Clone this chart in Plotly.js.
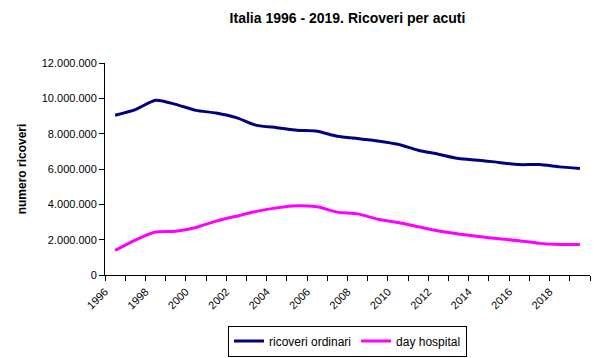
<!DOCTYPE html>
<html>
<head>
<meta charset="utf-8">
<script src="https://cdn.plot.ly/plotly-3.0.1.min.js"></script>
<style>html,body{margin:0;padding:0;background:#fff;}#chart{width:599px;height:358px;}</style>
</head>
<body>
<div id="chart"></div>
<script>
const years = [1996,1997,1998,1999,2000,2001,2002,2003,2004,2005,2006,2007,2008,2009,2010,2011,2012,2013,2014,2015,2016,2017,2018,2019];
const ricoveriOrdinari = [9040000,9360000,9890000,9660000,9320000,9170000,8910000,8470000,8340000,8190000,8140000,7850000,7720000,7590000,7400000,7060000,6840000,6590000,6500000,6370000,6250000,6250000,6120000,6030000];
const dayHospital = [1390000,1980000,2430000,2470000,2690000,3050000,3330000,3600000,3800000,3920000,3860000,3560000,3460000,3160000,2970000,2730000,2490000,2320000,2180000,2050000,1940000,1790000,1730000,1730000];
const tickLabels = ['1996','1998','2000','2002','2004','2006','2008','2010','2012','2014','2016','2018'];
const tickPos = tickLabels.map(t => Number(t) - 0.5);

const FONT = 'Liberation Sans, Arial, sans-serif';
const data = [
  {x: years, y: ricoveriOrdinari, name: 'ricoveri ordinari', mode: 'lines', type: 'scatter',
   line: {color: '#000080', width: 3, shape: 'spline', smoothing: 0.6}},
  {x: years, y: dayHospital, name: 'day hospital', mode: 'lines', type: 'scatter',
   line: {color: '#FF00FF', width: 3, shape: 'spline', smoothing: 0.6}}
];
const layout = {
  width: 599, height: 358,
  margin: {l: 105, r: 9, t: 63, b: 83},
  paper_bgcolor: '#fff', plot_bgcolor: '#fff',
  separators: ',.',
  font: {family: FONT, size: 11, color: '#000'},
  title: {text: '<b>Italia 1996 - 2019. Ricoveri per acuti</b>', font: {family: FONT, size: 14, color: '#000'},
          x: 0.5, xanchor: 'center', y: 0.95, yanchor: 'middle', xref: 'paper'},
  xaxis: {range: [1995.5, 2019.5], tickmode: 'array', tickvals: tickPos, ticktext: tickLabels,
          tickangle: -45, ticks: 'outside', ticklen: 5, tickcolor: '#000', tickwidth: 1, automargin: false,
          showline: true, linecolor: '#000', linewidth: 1, showgrid: false, zeroline: false,
          minor: {tickmode: 'linear', tick0: 1995.5, dtick: 1, ticks: 'outside', ticklen: 5, tickcolor: '#000', showgrid: false},
          tickfont: {family: FONT, size: 11, color: '#000'}, fixedrange: true},
  yaxis: {range: [0, 12000000], dtick: 2000000, tick0: 0, tickformat: ',d', automargin: false,
          ticks: 'outside', ticklen: 5, tickcolor: '#000', showline: true, linecolor: '#000', linewidth: 1,
          showgrid: false, zeroline: false,
          tickfont: {family: FONT, size: 11, color: '#000'},
          title: {text: '<b>numero ricoveri</b>', font: {family: FONT, size: 12, color: '#000'}, standoff: 12}},
  showlegend: true,
  legend: {orientation: 'h', xref: 'paper', x: 0.5, xanchor: 'center', yref: 'container', y: 0.004, yanchor: 'bottom',
           bordercolor: '#000', borderwidth: 1, bgcolor: '#fff',
           font: {family: FONT, size: 12, color: '#000'}, itemwidth: 30, tracegroupgap: 0}
};
Plotly.newPlot('chart', data, layout, {displayModeBar: false, staticPlot: true});
</script>
</body>
</html>
